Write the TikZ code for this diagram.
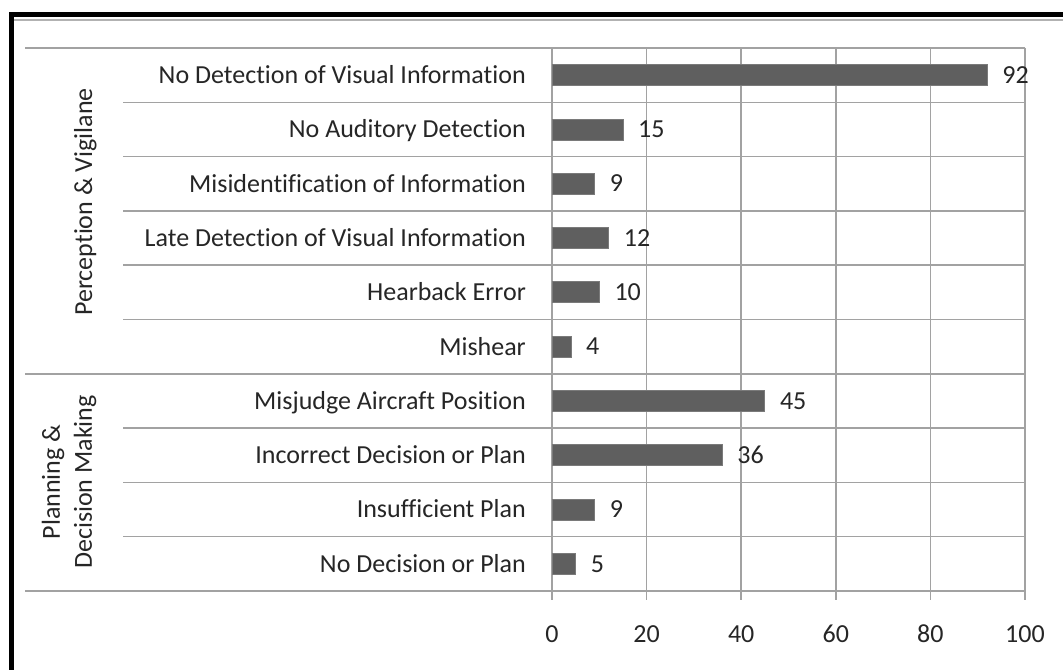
\documentclass[tikz,border=0pt]{standalone}
\usepackage{fontspec}
\setmainfont{Carlito}[Ligatures=NoCommon]
\definecolor{gridgray}{HTML}{A2A2A2}
\definecolor{barfill}{HTML}{5F5F5F}
\definecolor{baredge}{HTML}{7A7A7A}
\definecolor{txt}{HTML}{262626}
\begin{document}
\begin{tikzpicture}[x=1bp,y=-1bp,
  grid/.style={draw=gridgray, line width=1.5bp},
  barbox/.style={fill=barfill, draw=baredge, line width=0.8bp},
  lbl/.style={font=\fontsize{26bp}{32bp}\selectfont, text=txt, inner sep=0pt},
  frame/.style={draw=black, line width=5bp}]
\useasboundingbox (0,0) rectangle (1063,670);
\fill[white] (0,0) rectangle (1063,670);
% outer frame
\coordinate (fb) at (11.5,670);
\coordinate (fc) at (11.5,14.5);
\coordinate (fr) at (1063,14.5);
\draw[frame] (fb) -- (fc) -- (fr);
\coordinate (gl) at (14,20);
\coordinate (gr) at (1063,20);
\draw[draw=black!30, line width=1.5bp] (gl) -- (gr);
% vertical gridlines with ticks
\foreach \v in {0,20,40,60,80,100}{
  \coordinate (vt\v) at ({552+4.73*\v},48);
  \coordinate (vb\v) at ({552+4.73*\v},600);
  \draw[grid] (vt\v) -- (vb\v);
  \node[lbl, anchor=base] (ax\v) at ({552+4.73*\v},642) {\v};
}
% horizontal lines
\foreach \k/\xs in {0/25,1/123,2/123,3/123,4/123,5/123,6/25,7/123,8/123,9/123,10/25}{
  \coordinate (hl\k) at (\xs,{48+54.3*\k});
  \coordinate (hr\k) at (1025,{48+54.3*\k});
  \draw[grid] (hl\k) -- (hr\k);
}
% categories, bars, values
\foreach \i/\t/\v in {
  0/No Detection of Visual Information/92,
  1/No Auditory Detection/15,
  2/Misidentification of Information/9,
  3/Late Detection of Visual Information/12,
  4/Hearback Error/10,
  5/Mishear/4,
  6/Misjudge Aircraft Position/45,
  7/Incorrect Decision or Plan/36,
  8/Insufficient Plan/9,
  9/No Decision or Plan/5}{
  \pgfmathsetmacro{\yc}{48+54.3*(\i+0.5)}
  \pgfmathsetmacro{\xe}{552+4.73*\v}
  \node[lbl, anchor=base east] (c\i) at (526,\yc+8.4) {\t};
  \coordinate (b\i a) at (552,\yc-10.5);
  \coordinate (b\i b) at (\xe,\yc+10.5);
  \draw[barbox] (b\i a) rectangle (b\i b);
  \node[lbl, anchor=base west] (v\i) at (\xe+15,\yc+8.2) {\v};
}
% group labels
\node[lbl, rotate=90, anchor=base] (g1) at (92,202) {Perception \& Vigilane};
\node[lbl, rotate=90, align=center, anchor=center] (g2) at (69,482) {Planning \&\\Decision Making};
\end{tikzpicture}
\end{document}
